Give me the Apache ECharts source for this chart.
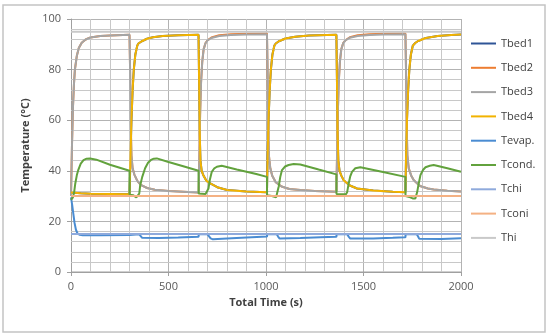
<!DOCTYPE html>
<html><head><meta charset="utf-8">
<script src="https://cdn.jsdelivr.net/npm/echarts@6/dist/echarts.min.js"></script>
<style>html,body{margin:0;padding:0;background:#fff}#c{width:550px;height:335px}</style>
</head><body><div id="c"></div>
<script>
const seriesNames = ['Tbed1','Tbed2','Tbed3','Tbed4','Tevap.','Tcond.','Tchi','Tconi','Thi'];
const xTicks = [0, 500, 1000, 1500, 2000];
const yTicks = [0, 20, 40, 60, 80, 100];
const xMinorTicks = [100,200,300,400,600,700,800,900,1100,1200,1300,1400,1600,1700,1800,1900];
const yMinorTicks = [4,8,12,16,24,28,32,36,44,48,52,56,64,68,72,76,84,88,92,96];

const tbed3 = [[0,30],[5,50],[10,65],[15,74],[20,80],[30,85.5],[40,88.5],[55,90.6],[75,91.9],[100,92.7],[150,93.3],[200,93.5],[300,93.8],
 [303,80],[306,60],[310,46],[316,41],[325,38.5],[340,36],[360,34.3],[390,33.2],[430,32.5],[500,32],[600,31.6],[655,31.4],
 [658,45],[662,62],[667,75],[673,83],[680,88],[690,90.5],[700,91.5],[720,92.5],[760,93.3],[820,93.7],[900,93.9],[1005,94],
 [1008,80],[1011,60],[1015,46],[1022,41],[1032,38],[1050,35.5],[1080,33.8],[1120,32.8],[1176,32.4],[1250,32],[1361,31.7],
 [1364,45],[1368,62],[1373,75],[1379,83],[1386,88],[1396,90.5],[1407,91.5],[1430,92.6],[1470,93.3],[1530,93.7],[1600,93.9],[1715,94],
 [1718,80],[1721,60],[1725,46],[1732,41],[1745,38],[1758,36.3],[1790,34],[1830,33],[1860,32.6],[1930,32.1],[2000,31.8]];

const tbed2 = [[0,30],[5,50],[10,65],[15,74],[20,80],[30,85.5],[40,88.5],[55,90.6],[75,91.9],[100,92.7],[150,93.3],[200,93.5],[300,93.8],
 [303,80],[306,60],[310,46],[316,41],[325,38.5],[340,36],[360,34.3],[390,33.2],[430,32.5],[500,32],[600,31.6],[655,31.4],
 [658,45],[662,62],[667,75],[673,83],[680,88],[690,90.5],[700,91.6],[720,92.7],[760,93.6],[820,94.0],[900,94.2],[1005,94.3],
 [1008,80],[1011,60],[1015,46],[1022,41],[1032,38],[1050,35.5],[1080,33.8],[1120,32.8],[1176,32.4],[1250,32],[1361,31.7],
 [1364,45],[1368,62],[1373,75],[1379,83],[1386,88],[1396,90.5],[1407,91.6],[1430,92.8],[1470,93.6],[1530,94.0],[1600,94.2],[1715,94.3],
 [1718,80],[1721,60],[1725,46],[1732,41],[1745,38],[1758,36.3],[1790,34],[1830,33],[1860,32.6],[1930,32.1],[2000,31.8]];

const tbed4 = [[0,31.4],[50,31.1],[100,30.9],[200,30.8],[300,30.7],
 [305,45],[310,60],[316,72],[322,80],[330,86],[340,89.5],[346,90.3],[363,91.2],[390,92.2],[420,92.8],[470,93.3],[550,93.6],[654,93.8],
 [657,75],[660,55],[664,44],[670,40],[680,38],[695,36],[714,35],[750,33.5],[800,32.4],[900,31.8],[1005,31.5],
 [1008,45],[1013,60],[1019,72],[1025,80],[1033,86],[1043,89.5],[1050,90.3],[1066,91.2],[1100,92.3],[1150,93],[1220,93.5],[1361,93.8],
 [1364,75],[1367,55],[1371,44],[1377,40],[1387,38],[1398,36.3],[1430,34.2],[1467,33],[1550,32.2],[1650,31.7],[1715,31.5],
 [1718,45],[1723,60],[1729,72],[1735,80],[1743,86],[1753,89.5],[1765,90.5],[1780,91.3],[1820,92.5],[1880,93.3],[1950,93.7],[2000,93.9]];

const tbed1 = [[0,31.4],[50,31.1],[100,30.9],[200,30.8],[300,30.7],
 [305,45],[310,60],[316,72],[322,80],[330,86],[340,89.5],[346,90.3],[363,91.2],[390,92.2],[420,92.8],[470,93.3],[550,93.6],[654,93.8],
 [657,75],[660,55],[664,44],[670,40],[680,38],[695,36],[714,35],[750,33.5],[800,32.4],[900,31.8],[1005,31.5],
 [1008,45],[1013,60],[1019,72],[1025,80],[1033,86],[1043,89.5],[1050,90.3],[1066,91.2],[1100,92.3],[1150,93],[1220,93.5],[1361,93.8],
 [1364,75],[1367,55],[1371,44],[1377,40],[1387,38],[1398,36.3],[1430,34.2],[1467,33],[1550,32.2],[1650,31.7],[1715,31.5],
 [1718,45],[1723,60],[1729,72],[1735,80],[1743,86],[1753,89.5],[1765,90.5],[1780,91.3],[1820,92.5],[1880,93.3],[1950,93.7],[2000,93.9]];

const tevap = [[0,29.5],[6,26.5],[12,23],[18,19.5],[25,16.8],[33,15.3],[45,14.7],[60,14.5],[150,14.5],[300,14.6],[301,14.9],[350,14.9],
 [358,14.2],[365,13.5],[375,13.2],[450,13.4],[550,13.6],[654,13.9],[655,14.9],[700,14.9],[708,14.1],[716,13.3],[728,12.9],[800,13.2],
 [900,13.6],[1005,14],[1006,14.9],[1055,14.9],[1062,14],[1070,13.2],[1080,12.9],[1176,13.4],[1280,13.7],[1361,13.9],[1362,14.9],
 [1416,14.9],[1424,14],[1432,13.2],[1441,12.8],[1550,13.2],[1650,13.5],[1715,13.7],[1716,14.9],[1773,14.9],[1780,14],[1786,13.1],
 [1792,12.6],[1900,13],[2000,13.3]];

const tcond = [[0,28.5],[5,28],[10,29.5],[16,31.5],[22,35],[30,38.3],[38,40.5],[50,42.8],[64,44.2],[80,44.8],[98,44.9],[130,44.4],
 [200,42.4],[300,40],[300.5,30.5],[320,30.3],[335,29.5],[345,29.6],[350,31],[355,34.3],[365,37.5],[380,41],[395,43.2],[410,44.3],
 [425,44.8],[440,44.9],[500,43.5],[580,41.7],[654,40],[654.5,31],[690,30.8],[700,31.5],[705,33],[712,36.5],[722,39.6],[735,41],
 [748,41.6],[773,42],[850,40.5],[950,38.7],[1005,37.6],[1005.5,30.3],[1030,30],[1040,29.4],[1052,29.5],[1058,31.5],[1065,33.7],
 [1073,37.5],[1082,40.3],[1098,41.7],[1116,42.3],[1142,42.7],[1176,42.5],[1270,40.5],[1361,38.6],[1361.5,30.8],[1410,30.7],
 [1416,31.5],[1424,35],[1432,37.8],[1441,39.6],[1458,41],[1484,41.4],[1600,39.5],[1715,37.6],[1715.5,30],[1740,29.5],[1752,29.1],
 [1766,29.1],[1775,31.5],[1782,34.5],[1792,38.3],[1805,40.3],[1818,41.4],[1840,42],[1860,42.3],[1930,41],[2000,39.6]];

const tchi = [[0,15],[2000,15]];
const tconi = [[0,30],[2000,30]];
const thi = [[0,95],[2000,95]];

const seriesData = [tbed1, tbed2, tbed3, tbed4, tevap, tcond, tchi, tconi, thi];
const colors = ['#2f5597','#ed7d31','#a5a5a5','#f2b300','#4a8cd2','#62a23d','#8faadc','#f4b183','#c9c9c9'];

const chart = echarts.init(document.getElementById('c'), null, {renderer:'canvas'});
const font = 'Open Sans';

const lineSeries = seriesNames.map((n, i) => ({
  name: n, type: 'line', data: seriesData[i], symbol: 'none', showSymbol: false,
  lineStyle: {width: 2, color: colors[i]}, itemStyle: {color: colors[i]},
  smooth: false, z: 3 + i
}));
const minorGridSeries = {
  name: '_minorGrid', type: 'line', data: [[0, 0], [2000, 0]], symbol: 'none',
  lineStyle: {color: '#a0a0a0', width: 1},
  markLine: {
    silent: true, symbol: 'none', label: {show: false},
    lineStyle: {color: '#c8c8c8', type: 'solid', width: 1},
    data: xMinorTicks.map(v => ({xAxis: v})).concat(yMinorTicks.map(v => ({yAxis: v})))
  }
};

chart.setOption({
  animation: false,
  backgroundColor: '#fff',
  color: colors,
  graphic: [{type:'rect', shape:{x:3,y:5,width:542,height:327}, style:{fill:'none', stroke:'#c4c4c4', lineWidth:1.5}, silent:true}],
  grid: {left: 71, top: 19, width: 390, height: 253},
  legend: {
    orient: 'vertical', left: 471, top: 38, padding: 0,
    itemWidth: 25, itemHeight: 14, itemGap: 13.3,
    icon: 'path://M0,0h25v2h-25z',
    textStyle: {fontFamily: font, fontSize: 11, color: '#404040'},
    data: seriesNames
  },
  xAxis: {
    type: 'value', min: xTicks[0], max: xTicks[xTicks.length-1], interval: 500,
    name: 'Total Time (s)', nameLocation: 'middle', nameGap: 20,
    nameTextStyle: {fontFamily: font, fontSize: 11, fontWeight: 'bold', color: '#404040'},
    axisLine: {show: true, lineStyle: {color: '#a0a0a0', width: 1}},
    axisTick: {show: true, length: 4, lineStyle: {color: '#a0a0a0'}},
    axisLabel: {fontFamily: font, fontSize: 11, color: '#595959', margin: 9, formatter: v => String(v)},
    splitLine: {show: true, lineStyle: {color: '#b3b3b3', width: 1}}
  },
  yAxis: {
    type: 'value', min: yTicks[0], max: yTicks[yTicks.length-1], interval: 20,
    name: 'Temperature (°C)', nameLocation: 'middle', nameGap: 34,
    nameTextStyle: {fontFamily: font, fontSize: 11, fontWeight: 'bold', color: '#404040'},
    axisLine: {show: true, lineStyle: {color: '#a0a0a0', width: 1}},
    axisTick: {show: true, length: 4, lineStyle: {color: '#a0a0a0'}},
    axisLabel: {fontFamily: font, fontSize: 11, color: '#595959', margin: 10, formatter: v => String(v)},
    splitLine: {show: true, lineStyle: {color: '#b3b3b3', width: 1}}
  },
  series: [minorGridSeries].concat(lineSeries)
});
</script></body></html>
